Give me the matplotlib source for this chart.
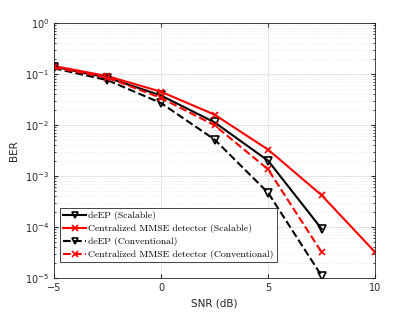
import matplotlib
matplotlib.use("Agg")
import matplotlib.pyplot as plt
import numpy as np

snr = [-5, -2.5, 0, 2.5, 5, 7.5, 10]

deep_scal = [0.14, 0.085, 0.038, 0.0113, 0.0020, 9.2e-5]
mmse_scal = [0.144, 0.091, 0.045, 0.016, 0.0033, 4.2e-4, 3.2e-5]
deep_conv = [0.13, 0.076, 0.027, 0.0052, 4.7e-4, 1.1e-5]
mmse_conv = [0.135, 0.085, 0.034, 0.0099, 0.00135, 3.2e-5]

labels = ["deEP (Scalable)", "Centralized MMSE detector (Scalable)",
          "deEP (Conventional)", "Centralized MMSE detector (Conventional)"]

fig = plt.figure(figsize=(4.15, 3.12), dpi=100)
ax = fig.add_axes([0.130, 0.109, 0.774, 0.817])

ax.semilogy(snr[:len(deep_scal)], deep_scal, 'k-', marker='v', mfc='none', ms=6, mew=1.2, lw=1.5, label=labels[0])
ax.semilogy(snr[:len(mmse_scal)], mmse_scal, 'r-', marker='x', ms=5, mew=1.2, lw=1.5, label=labels[1])
ax.semilogy(snr[:len(deep_conv)], deep_conv, 'k--', marker='v', mfc='none', ms=6, mew=1.2, lw=1.5, label=labels[2])
ax.semilogy(snr[:len(mmse_conv)], mmse_conv, 'r--', marker='x', ms=5, mew=1.2, lw=1.5, label=labels[3])

ax.set_xlim(-5, 10)
ax.set_ylim(1e-5, 1)
ax.set_xticks([-5, 0, 5, 10])
ax.set_yticks([1e-5, 1e-4, 1e-3, 1e-2, 1e-1, 1])
ax.grid(True, which='major', color='#e0e0e0', lw=0.6)
ax.grid(True, which='minor', color='#e6e6e6', lw=0.5, ls=':')
ax.tick_params(which='both', direction='in', top=True, right=True, labelsize=7, colors='#262626')
ax.tick_params(which='major', length=3)
ax.tick_params(which='minor', length=1.5)
for s in ax.spines.values():
    s.set_color('#262626')
    s.set_linewidth(0.6)
ax.set_xlabel("SNR (dB)", fontsize=7.5, color='#262626')
ax.set_ylabel("BER", fontsize=7.5, color='#262626')

leg = ax.legend(loc='lower left', bbox_to_anchor=(0.019, 0.063), borderaxespad=0,
                prop={'family': 'cmr10', 'size': 7}, fancybox=False,
                edgecolor='#262626', framealpha=1, borderpad=0.3, labelspacing=0.4,
                handlelength=2.4, handletextpad=0.2, markerscale=0.8)
leg.get_frame().set_linewidth(0.6)

fig.savefig("out.png", dpi=100)
